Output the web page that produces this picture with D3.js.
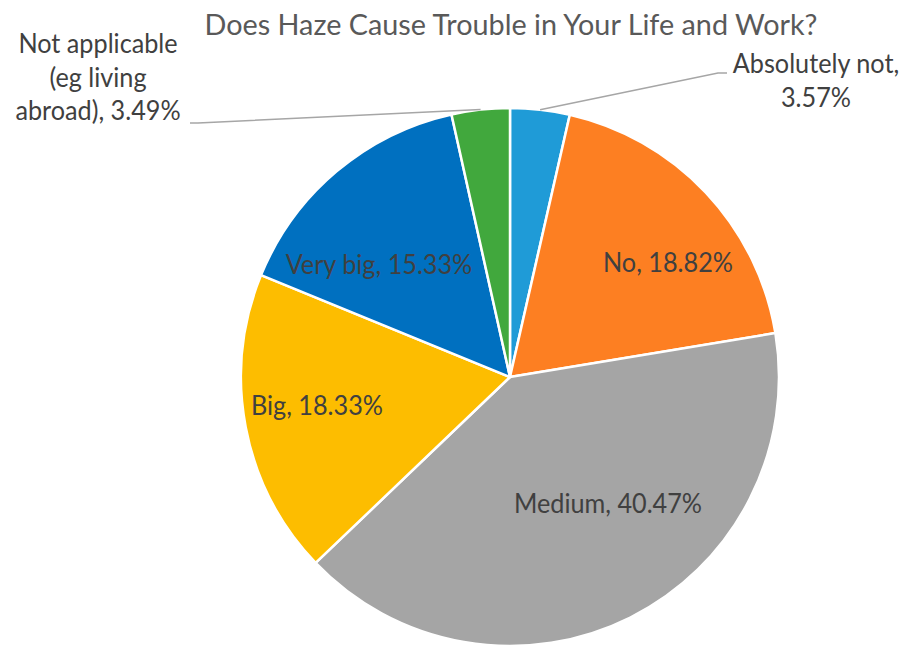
<!DOCTYPE html>
<html>
<head>
<meta charset="utf-8">
<script src="https://cdn.jsdelivr.net/npm/d3@7"></script>
<style>
  html, body { margin: 0; padding: 0; background: #fff; }
  svg { display: block; }
  text { font-family: Lato, "Open Sans", sans-serif; }
</style>
</head>
<body>
<svg id="chart" width="907" height="648"></svg>
<script>
// ---- data ----
const title = "Does Haze Cause Trouble in Your Life and Work?";
const categories = ["Absolutely not", "No", "Medium", "Big", "Very big", "Not applicable (eg living abroad)"];
const values = [3.57, 18.82, 40.47, 18.33, 15.33, 3.49];
const colors = ["#1f9bd7", "#fd7f22", "#a5a5a5", "#fdbd00", "#0070c0", "#41a83d"];
const labelLines = [
  ["Absolutely not,", "3.57%"],
  ["No, 18.82%"],
  ["Medium, 40.47%"],
  ["Big, 18.33%"],
  ["Very big, 15.33%"],
  ["Not applicable", "(eg living", "abroad), 3.49%"]
];

// ---- layout (label placement, not data) ----
const cx = 510, cy = 377, R = 269;
const labelPos = [
  {x: 816, y: 73},
  {x: 668, y: 272},
  {x: 608, y: 513},
  {x: 317, y: 415},
  {x: 379, y: 274},
  {x: 98,  y: 53}
];
const lineHeight = 33.5;
const labelFontPx = 26, titleFontPx = 29;

const svg = d3.select("#chart");

// horizontal compression to mimic a narrower font
function fitWidth(sel, targetRatio) {
  const w = sel.node().getComputedTextLength();
  sel.attr("textLength", w * targetRatio).attr("lengthAdjust", "spacingAndGlyphs");
}

// title
const t = svg.append("text")
  .attr("x", 511).attr("y", 35)
  .attr("text-anchor", "middle")
  .attr("fill", "#595959")
  .style("font-size", titleFontPx + "px")
  .text(title);
const tw = t.node().getComputedTextLength();
t.attr("textLength", 613).attr("lengthAdjust", "spacingAndGlyphs");

const pie = d3.pie().sort(null).value(d => d)
  .startAngle(0).endAngle(2 * Math.PI);
const arcs = pie(values);
const arc = d3.arc().innerRadius(0).outerRadius(R);

const g = svg.append("g").attr("transform", `translate(${cx},${cy})`);
g.selectAll("path.slice")
  .data(arcs)
  .join("path")
  .attr("class", "slice")
  .attr("d", arc)
  .attr("fill", (d, i) => colors[i])
  .attr("stroke", "#ffffff")
  .attr("stroke-width", 2.5)
  .attr("stroke-linejoin", "round");

// leader lines for the two small outside slices
function outerPt(d, frac) {
  const a = d.startAngle + (d.endAngle - d.startAngle) * frac;
  return [cx + R * Math.sin(a), cy - R * Math.cos(a)];
}
const leaders = [
  {i: 0, pts: [outerPt(arcs[0], 0.5), [718, 73], [727, 73]]},
  {i: 5, pts: [outerPt(arcs[5], 0.5), [198, 123], [190, 123]]}
];
svg.selectAll("path.leader")
  .data(leaders)
  .join("path")
  .attr("class", "leader")
  .attr("d", d => d3.line()(d.pts))
  .attr("fill", "none")
  .attr("stroke", "#a6a6a6")
  .attr("stroke-width", 1.5);

// labels: width ratio so "No, 18.82%" ≈ 130px
const probe = svg.append("text").style("font-size", labelFontPx + "px").text("No, 18.82%");
const ratio = 130 / probe.node().getComputedTextLength();
probe.remove();

labelLines.forEach((lines, i) => {
  lines.forEach((ln, k) => {
    const txt = svg.append("text")
      .attr("text-anchor", "middle")
      .attr("fill", "#404040")
      .style("font-size", labelFontPx + "px")
      .attr("x", labelPos[i].x)
      .attr("y", labelPos[i].y + k * lineHeight)
      .text(ln);
    fitWidth(txt, ratio);
  });
});
</script>
</body>
</html>
